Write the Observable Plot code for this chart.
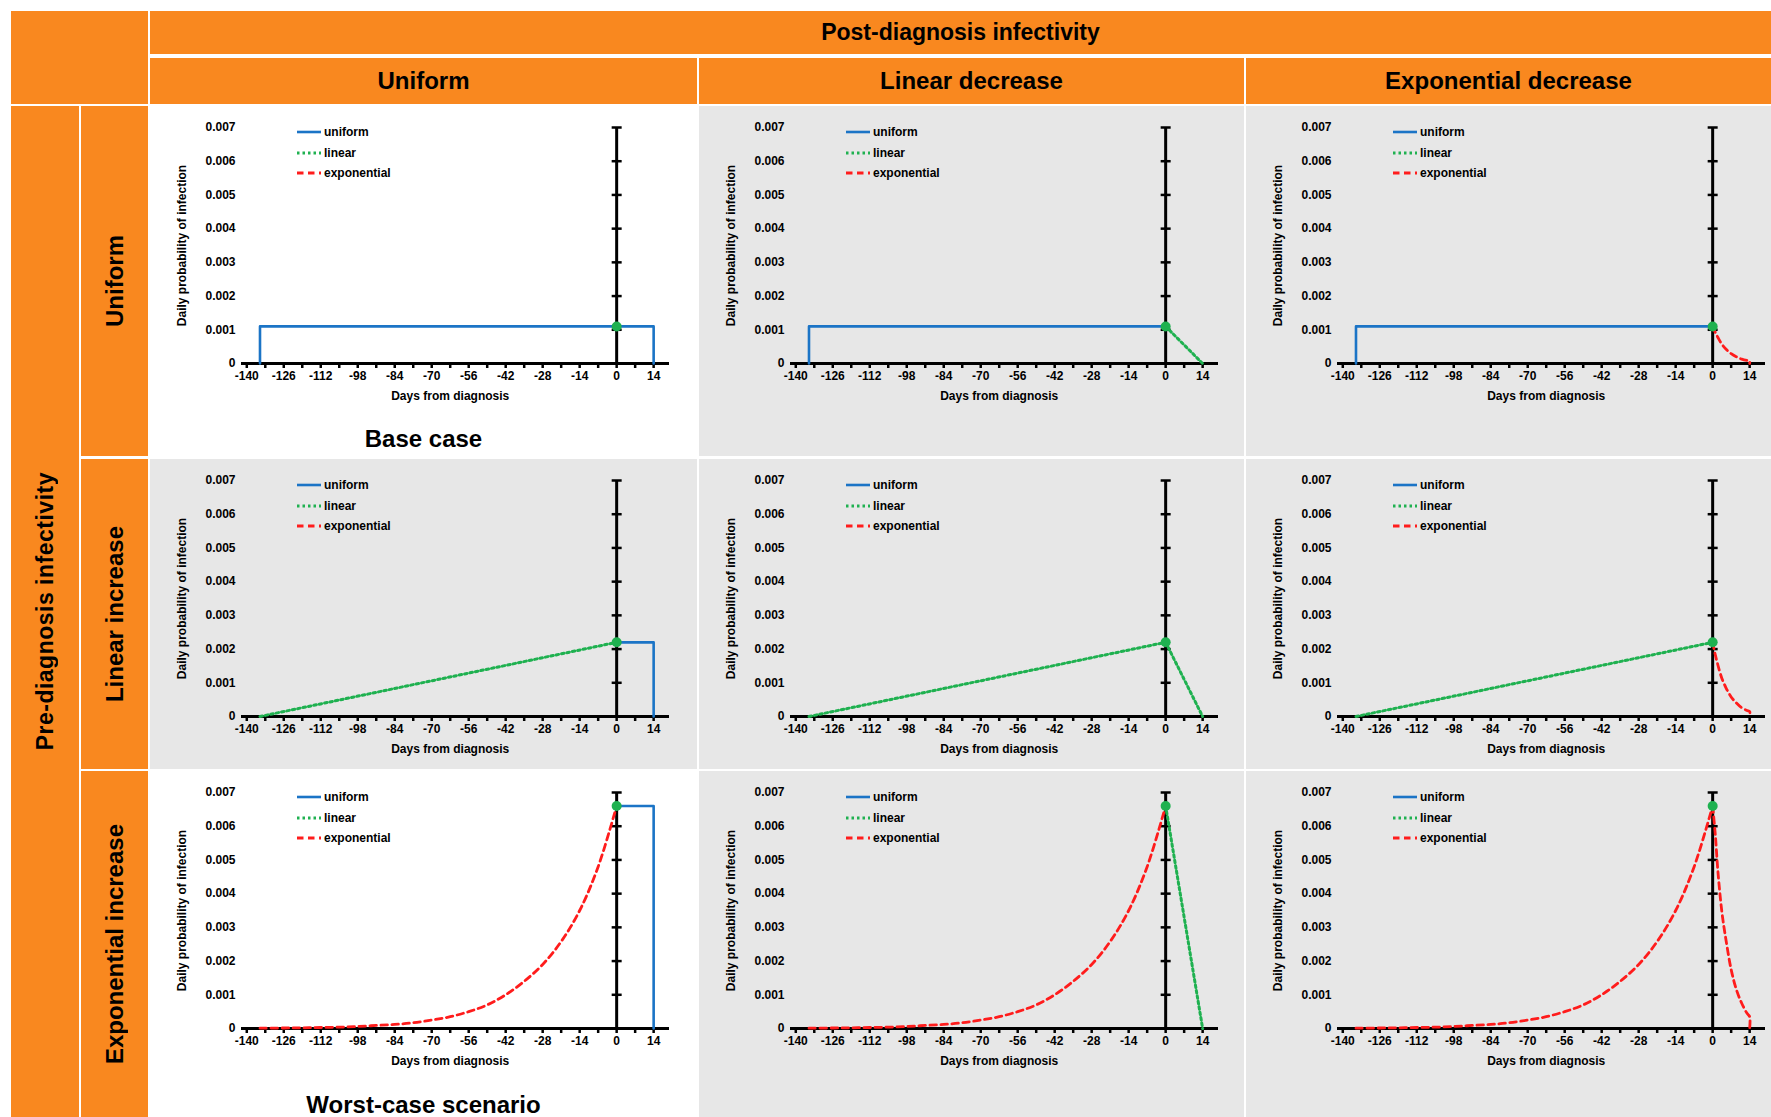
<!DOCTYPE html>
<html><head><meta charset="utf-8">
<script src="https://cdn.jsdelivr.net/npm/d3@7"></script>
<script src="https://cdn.jsdelivr.net/npm/@observablehq/plot@0.6"></script>
<style>
body{margin:0;background:#fff;font-family:"Liberation Sans",Arial,sans-serif;}
#root{position:relative;width:1771px;height:1117px;overflow:hidden;background:#fff;}
.cell{position:absolute;box-sizing:border-box;}
.or{background:#F9881F;display:flex;align-items:center;justify-content:center;font-weight:bold;color:#000;}
.vert{writing-mode:vertical-rl;transform:rotate(180deg);white-space:nowrap;}
.panel{overflow:hidden;}
.panel > svg{position:absolute;left:0;top:0;max-width:none !important;width:547px !important;height:310px !important;}
.legend{position:absolute;left:146px;top:16px;font-size:12px;font-weight:bold;color:#000;}
.legend div{height:20.5px;display:flex;align-items:center;}
.legend svg{margin-right:2px;}
.caption{position:absolute;left:0;width:547px;text-align:center;font-size:24px;font-weight:bold;line-height:28px;color:#000;}
</style></head>
<body><div id="root"></div>
<script>
// ---------- data ----------
const topTitle = "Post-diagnosis infectivity";
const sideTitle = "Pre-diagnosis infectivity";
const colLabels = ["Uniform", "Linear decrease", "Exponential decrease"];
const rowLabels = ["Uniform", "Linear increase", "Exponential increase"];
const seriesNames = ["uniform", "linear", "exponential"];
const seriesColors = ["#1B74C6", "#1FB150", "#FF1C1C"];
const peakValues = [0.0011, 0.0022, 0.0066];           // value at day 0 for each pre-diagnosis row
const preUniformDays = [-135, -135, 0];
const preLinearDays = [-135, 0];
const preExpDays = [-135, -126, -119, -112, -105, -98, -91, -84, -77, -70, -63, -56, -49, -42, -35, -28, -21, -14, -7, 0];
const preExpValues = [0.00001, 0.000015, 0.00002, 0.00003, 0.00004, 0.00006, 0.00009, 0.00012, 0.00017, 0.00025, 0.00035, 0.0005, 0.0007, 0.001, 0.0014, 0.0019, 0.00258, 0.0035, 0.0048, 0.0066];
const postUniformDays = [0, 14, 14];
const postLinearDays = [0, 14];
const postExpDays = [0, 1, 2, 3.5, 5, 7, 9, 11, 13, 14, 14];
const postExpValuesRow0 = [0.0011, 0.00092, 0.00077, 0.00057, 0.00043, 0.00029, 0.0002, 0.00013, 0.00009, 0.00008, 0];
const postExpValuesRow1 = [0.0022, 0.00183, 0.00152, 0.00113, 0.00086, 0.00058, 0.0004, 0.00026, 0.00018, 0.00015, 0];
const postExpValuesRow2 = [0.0066, 0.00575, 0.00465, 0.00345, 0.00265, 0.00175, 0.00115, 0.00075, 0.00045, 0.00035, 0];
const xTickValues = [-140, -133, -126, -119, -112, -105, -98, -91, -84, -77, -70, -63, -56, -49, -42, -35, -28, -21, -14, -7, 0, 7, 14];
const xTickLabels = [-140, -126, -112, -98, -84, -70, -56, -42, -28, -14, 0, 14];
const yTickValues = [0, 0.001, 0.002, 0.003, 0.004, 0.005, 0.006, 0.007];
const xTitle = "Days from diagnosis";
const yTitle = "Daily probability of infection";
const captions = {"0,0": "Base case", "2,0": "Worst-case scenario"};

// ---------- layout ----------
const GRAY = "#E7E7E7";
const colX = [150, 699, 1246], colW = [547, 545, 525];
const rowY = [106, 459, 771], rowH = [350, 310, 346];
const whiteCells = ["0,0", "2,0"];
const root = document.getElementById("root");
function div(cls, css, html) {
  const d = document.createElement("div");
  d.className = cls; Object.assign(d.style, css);
  if (html !== undefined) d.innerHTML = html;
  root.appendChild(d); return d;
}
div("cell or", {left:"11px", top:"11px", width:"137px", height:"93px"});
div("cell or", {left:"150px", top:"11px", width:"1621px", height:"43px", fontSize:"23px"}, topTitle);
colLabels.forEach((t, c) => div("cell or", {left: colX[c]+"px", top:"58px", width: colW[c]+"px", height:"46px", fontSize:"24px"}, t));
div("cell or", {left:"11px", top:"106px", width:"68px", height:"1011px", fontSize:"23px"}, `<span class="vert" style="letter-spacing:0.5px">${sideTitle}</span>`);
rowLabels.forEach((t, r) => div("cell or", {left:"81px", top: rowY[r]+"px", width:"67px", height: rowH[r]+"px", fontSize:"24px"}, `<span class="vert">${t}</span>`));

const hTick = {draw(ctx, size) { const w = Math.sqrt(size / Math.PI); ctx.moveTo(-w, 0); ctx.lineTo(w, 0); }};
const styles = [
  {stroke: seriesColors[0], strokeWidth: 2.6},
  {stroke: seriesColors[1], strokeWidth: 3, strokeDasharray: "2.5,3"},
  {stroke: seriesColors[2], strokeWidth: 2.8, strokeDasharray: "6.5,4.5", curve: "catmull-rom"}
];
const postExpRows = [postExpValuesRow0, postExpValuesRow1, postExpValuesRow2];

function preSeries(r) {
  const p = peakValues[r];
  if (r === 0) return {days: preUniformDays, values: [0, p, p]};
  if (r === 1) return {days: preLinearDays, values: [0, p]};
  return {days: preExpDays, values: preExpValues};
}
function postSeries(r, c) {
  const p = peakValues[r];
  if (c === 0) return {days: postUniformDays, values: [p, p, 0]};
  if (c === 1) return {days: postLinearDays, values: [p, 0]};
  return {days: postExpDays, values: postExpRows[r]};
}
const toRows = s => s.days.map((d, i) => ({day: d, value: s.values[i]}));

function makePlot(r, c) {
  const pre = toRows(preSeries(r)), post = toRows(postSeries(r, c));
  const xMid = (xTickLabels[0] + xTickLabels[xTickLabels.length - 1]) / 2;
  const svg = Plot.plot({
    width: 547, height: 310,
    marginLeft: 91, marginRight: 28, marginTop: 21, marginBottom: 53,
    x: {domain: [-142, 20]},
    y: {domain: [0, 0.007]},
    style: {background: "transparent", fontFamily: "'Liberation Sans', Arial, sans-serif", fontSize: "12px", fontWeight: "bold", color: "#000", overflow: "visible", maxWidth: "none"},
    marks: [
      Plot.axisY({ticks: yTickValues, tickSize: 0, tickPadding: 6, tickFormat: d => d === 0 ? "0" : d.toFixed(3),
        label: yTitle, labelAnchor: "center", labelOffset: 64, labelArrow: "none"}),
      Plot.axisX({ticks: xTickValues, tickSize: 5, tickPadding: 3, strokeWidth: 2.5,
        tickFormat: d => xTickLabels.includes(d) ? String(d) : "", label: null}),
      Plot.ruleY([0], {x1: -142, x2: 20, stroke: "black", strokeWidth: 3}),
      Plot.ruleX([0], {y1: 0, y2: 0.007, stroke: "black", strokeWidth: 3}),
      Plot.dot(yTickValues.slice(1), {x: () => 0, y: d => d, symbol: hTick, r: 5, stroke: "black", strokeWidth: 2.5, fill: "none"}),
      Plot.line(pre, {x: "day", y: "value", ...styles[r]}),
      Plot.line(post, {x: "day", y: "value", ...styles[c]}),
      Plot.dot([peakValues[r]], {x: () => 0, y: d => d, r: 5, fill: seriesColors[1], stroke: "none"}),
      Plot.text([xTitle], {x: () => xMid, frameAnchor: "bottom", dy: 36, fontSize: 12, fontWeight: "bold", fill: "black"})
    ]
  });
  svg.style.maxWidth = "none";
  return svg;
}

function legendHTML() {
  return `<div class="legend">` + seriesNames.map((n, i) => {
    const s = styles[i];
    return `<div><svg width="26" height="8"><line x1="1" y1="4" x2="25" y2="4" stroke="${s.stroke}" stroke-width="${s.strokeWidth}" ${s.strokeDasharray ? `stroke-dasharray="${s.strokeDasharray}"` : ""}/></svg>${n}</div>`;
  }).join("") + `</div>`;
}

for (let r = 0; r < 3; r++) for (let c = 0; c < 3; c++) {
  const key = r + "," + c;
  const p = div("cell panel", {left: colX[c]+"px", top: rowY[r]+"px", width: colW[c]+"px", height: rowH[r]+"px",
    background: whiteCells.includes(key) ? "#fff" : GRAY});
  p.appendChild(makePlot(r, c));
  p.insertAdjacentHTML("beforeend", legendHTML());
  if (captions[key]) p.insertAdjacentHTML("beforeend", `<div class="caption" style="top:${rowH[r] === 350 ? 319 : 320}px">${captions[key]}</div>`);
}
</script>
</body></html>
